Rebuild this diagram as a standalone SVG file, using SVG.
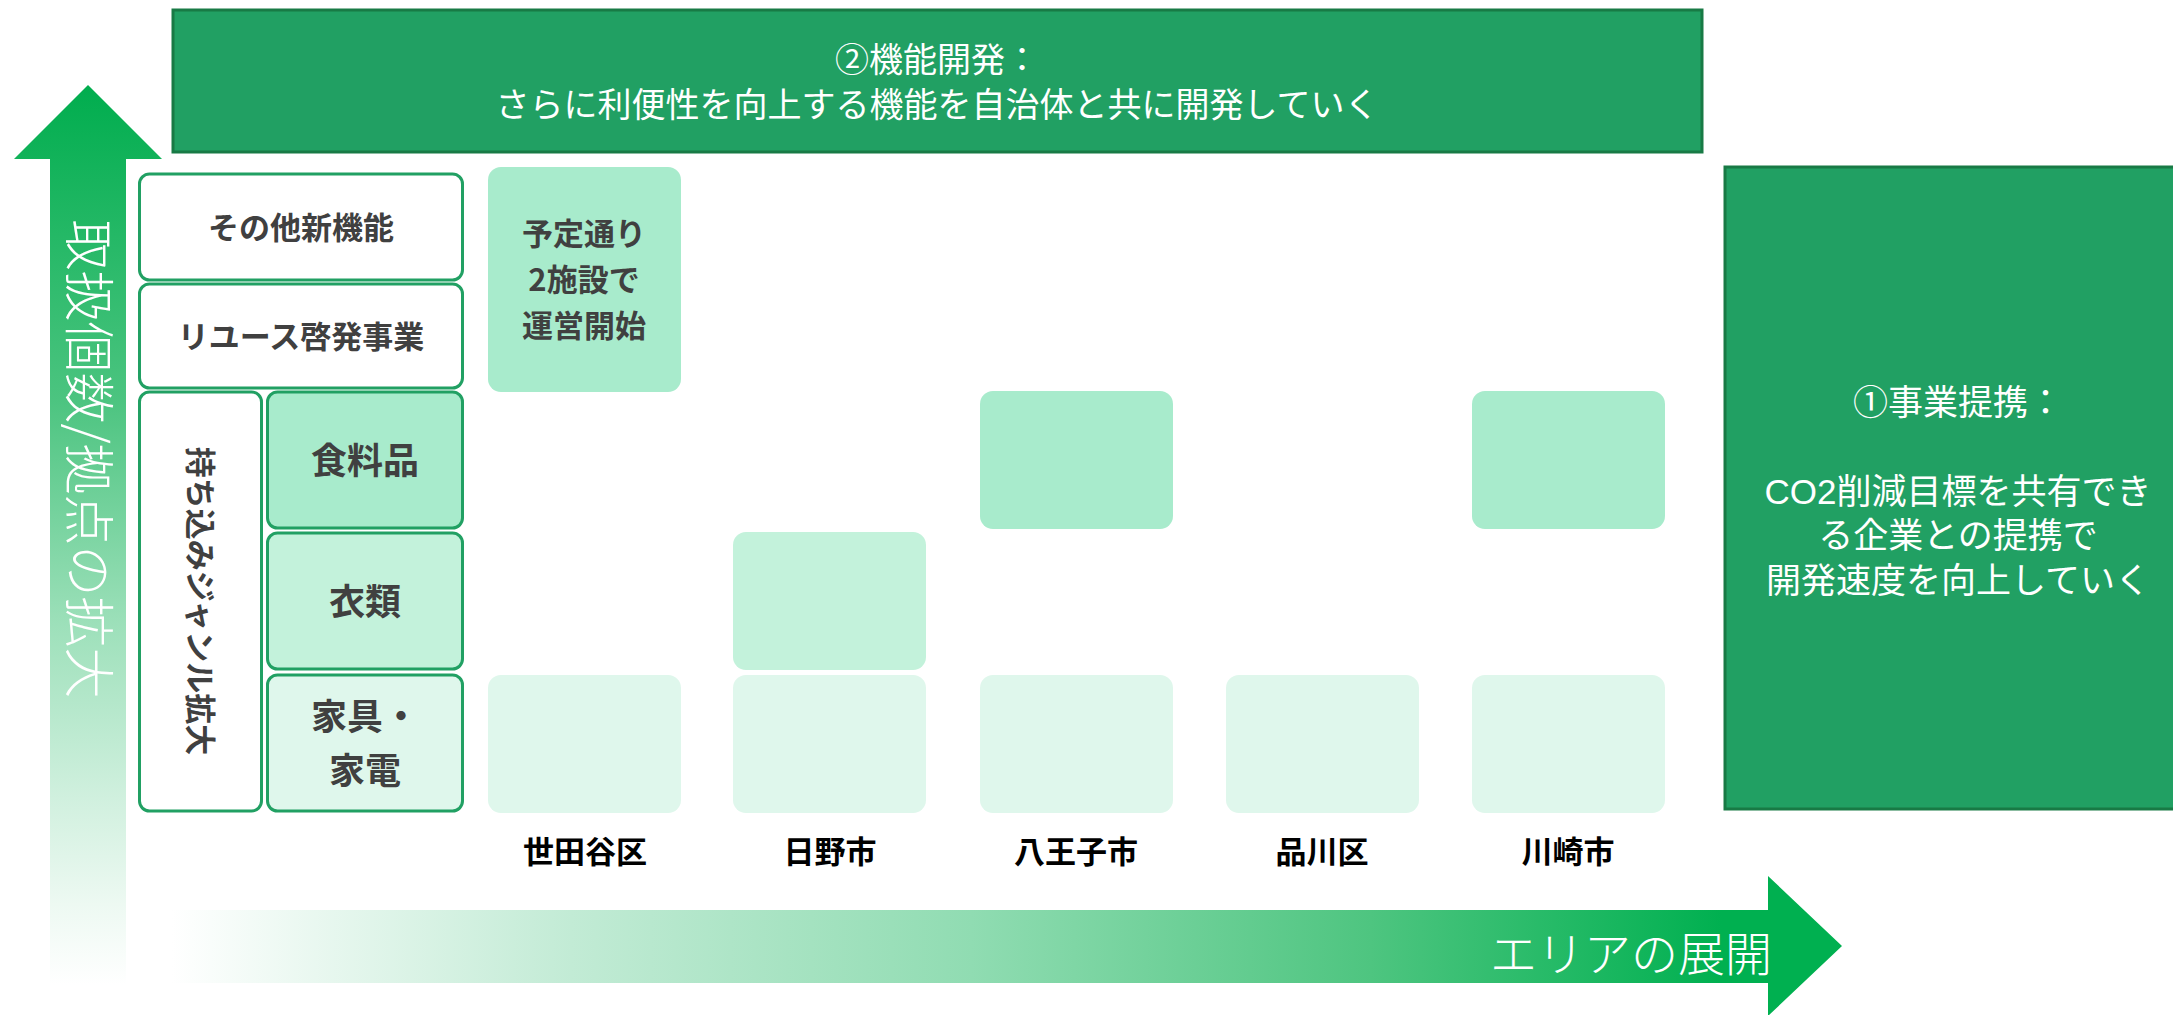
<svg xmlns="http://www.w3.org/2000/svg" width="2173" height="1015" viewBox="0 0 2173 1015">
<defs>
<linearGradient id="gH" gradientUnits="userSpaceOnUse" x1="172" y1="0" x2="1770" y2="0">
<stop offset="0" stop-color="#FFFFFF"/>
<stop offset="0.25" stop-color="#C2EBD5"/>
<stop offset="0.5" stop-color="#90DCB2"/>
<stop offset="0.75" stop-color="#4EC580"/>
<stop offset="0.97" stop-color="#00B050"/>
</linearGradient>
<linearGradient id="gV" gradientUnits="userSpaceOnUse" x1="0" y1="85" x2="0" y2="985">
<stop offset="0" stop-color="#00AD4E"/>
<stop offset="0.35" stop-color="#4CC480"/>
<stop offset="0.6" stop-color="#9DE0BA"/>
<stop offset="0.78" stop-color="#CDEFDC"/>
<stop offset="0.91" stop-color="#EDF9F2"/>
<stop offset="1" stop-color="#FFFFFF"/>
</linearGradient>
<style>
.banner{fill:#21A063;stroke:#187A45;stroke-width:3}
.wt{fill:#FFFFFF;font-family:"Noto Sans CJK JP",sans-serif;}
.wl{fill:#FFFFFF;font-family:"Liberation Sans","Noto Sans CJK JP",sans-serif;font-size:35px;text-anchor:middle}
.lab{stroke:#21A063;stroke-width:3}
.gt{fill:#404040;font-family:"Noto Sans CJK JP",sans-serif;font-weight:bold;text-anchor:middle}
.city{fill:#000000;font-family:"Noto Sans CJK JP",sans-serif;font-weight:bold;font-size:31px;text-anchor:middle}
.c1{fill:#A8EBCC}
.c2{fill:#C3F2DB}
.c3{fill:#DFF7EC}
</style>
</defs>
<rect width="2173" height="1015" fill="#FFFFFF"/>

<g id="axes">
<polygon id="axis-y" points="88,85 162,159 126,159 126,985 50,985 50,159 14,159" fill="url(#gV)"/>
<text class="wt" transform="translate(89,459) rotate(90)" x="0" y="19" font-size="51" font-weight="300" text-anchor="middle">取扱個数/拠点の拡大</text>
<polygon id="axis-x" points="172,910 1768,910 1768,876 1842,946 1768,1016 1768,983 172,983" fill="url(#gH)"/>
<text class="wt" x="1772" y="971" font-size="47" font-weight="300" text-anchor="end">エリアの展開</text>
</g>

<g id="node-kinou">
<rect class="banner" x="173" y="10" width="1529" height="142"/>
<text class="wt" x="937" y="72" font-size="34" text-anchor="middle">②機能開発：</text>
<text class="wt" x="937" y="117" font-size="34" text-anchor="middle">さらに利便性を向上する機能を自治体と共に開発していく</text>
</g>

<g id="node-teikei">
<rect class="banner" x="1725" y="167" width="470" height="642"/>
<text class="wl" x="1958" y="415">①事業提携：</text>
<text class="wl" x="1958" y="504">CO2削減目標を共有でき</text>
<text class="wl" x="1958" y="548">る企業との提携で</text>
<text class="wl" x="1958" y="593">開発速度を向上していく</text>
</g>

<g id="node-sonota">
<rect class="lab" x="139.5" y="174" width="323" height="106" rx="10" fill="#FFFFFF"/>
<text class="gt" x="301" y="239" font-size="31">その他新機能</text>
</g>
<g id="node-reuse">
<rect class="lab" x="139.5" y="284" width="323" height="104" rx="10" fill="#FFFFFF"/>
<text class="gt" x="301" y="348" font-size="31">リユース啓発事業</text>
</g>
<g id="node-genre">
<rect class="lab" x="139.5" y="392" width="122" height="419" rx="10" fill="#FFFFFF"/>
<text class="gt" transform="translate(201,601) rotate(90)" x="0" y="12" font-size="31">持ち込みジャンル拡大</text>
</g>
<g id="node-food">
<rect class="lab c1" x="267.5" y="392" width="195" height="136" rx="10"/>
<text class="gt" x="365" y="474" font-size="36">食料品</text>
</g>
<g id="node-cloth">
<rect class="lab c2" x="267.5" y="533" width="195" height="136" rx="10"/>
<text class="gt" x="365" y="615" font-size="36">衣類</text>
</g>
<g id="node-furniture">
<rect class="lab c3" x="267.5" y="675" width="195" height="136" rx="10"/>
<text class="gt" x="365" y="730" font-size="36">家具・</text>
<text class="gt" x="365" y="784" font-size="36">家電</text>
</g>

<g id="node-setagaya-start">
<rect class="c1" x="488" y="167" width="193" height="225" rx="13"/>
<text class="gt" x="584" y="245" font-size="31">予定通り</text>
<text class="gt" x="584" y="291" font-size="31">2施設で</text>
<text class="gt" x="584" y="337" font-size="31">運営開始</text>
</g>
<g id="cells">
<rect id="cell-hachioji-food" class="c1" x="980" y="391" width="193" height="138" rx="13"/>
<rect id="cell-kawasaki-food" class="c1" x="1472" y="391" width="193" height="138" rx="13"/>
<rect id="cell-hino-cloth" class="c2" x="733" y="532" width="193" height="138" rx="13"/>
<rect id="cell-setagaya-furn" class="c3" x="488" y="675" width="193" height="138" rx="13"/>
<rect id="cell-hino-furn" class="c3" x="733" y="675" width="193" height="138" rx="13"/>
<rect id="cell-hachioji-furn" class="c3" x="980" y="675" width="193" height="138" rx="13"/>
<rect id="cell-shinagawa-furn" class="c3" x="1226" y="675" width="193" height="138" rx="13"/>
<rect id="cell-kawasaki-furn" class="c3" x="1472" y="675" width="193" height="138" rx="13"/>
</g>

<g id="cities">
<text class="city" x="585" y="863">世田谷区</text>
<text class="city" x="830" y="863">日野市</text>
<text class="city" x="1076" y="863">八王子市</text>
<text class="city" x="1322" y="863">品川区</text>
<text class="city" x="1568" y="863">川崎市</text>
</g>

<g id="connectors"></g>
</svg>
